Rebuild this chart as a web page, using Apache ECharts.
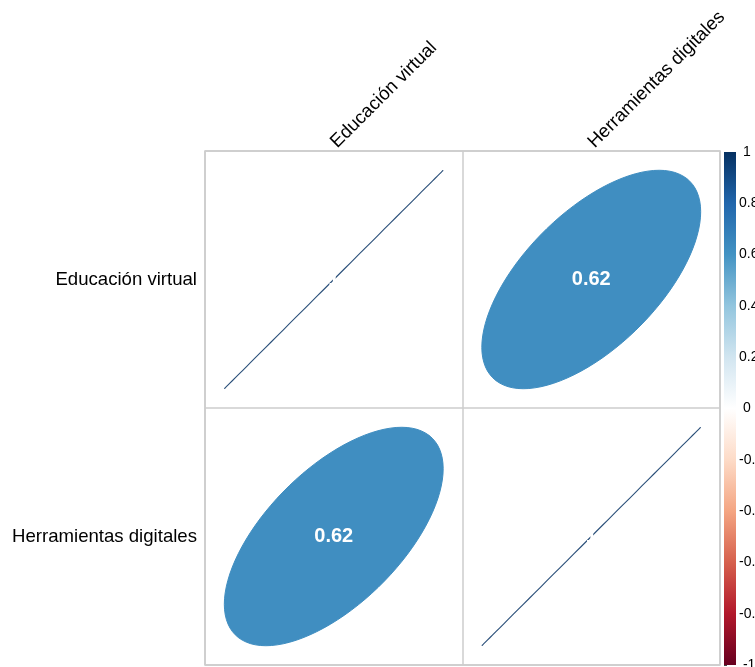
<!DOCTYPE html>
<html>
<head>
<meta charset="utf-8">
<script src="https://cdn.jsdelivr.net/npm/echarts@6/dist/echarts.min.js"></script>
<style>
html,body{margin:0;padding:0;background:#fff;}
#chart{width:755px;height:667px;}
</style>
</head>
<body>
<div id="chart"></div>
<script>
// ---- data ----
const variables = ['Educación virtual', 'Herramientas digitales'];
const correlations = [
  [1, 0.62],
  [0.62, 1]
];
const legendTicks = [-1, -0.8, -0.6, -0.4, -0.2, 0, 0.2, 0.4, 0.6, 0.8, 1];
const legendTickLabels = ['-1', '-0.8', '-0.6', '-0.4', '-0.2', '0', '0.2', '0.4', '0.6', '0.8', '1'];
const colorScale = ['#67001F', '#B2182B', '#D6604D', '#F4A582', '#FDDBC7', '#FFFFFF',
                    '#D1E5F0', '#92C5DE', '#4393C3', '#2166AC', '#053061'];

const cells = [];
for (let i = 0; i < variables.length; i++) {
  for (let j = 0; j < variables.length; j++) {
    cells.push([j, i, correlations[i][j]]);
  }
}

const FONT = 'Liberation Sans, Arial, sans-serif';
const chart = echarts.init(document.getElementById('chart'), null, {renderer: 'canvas'});

function renderEllipse(params, api) {
  const c = api.coord([api.value(0), api.value(1)]);
  const s = api.size([1, 1]);
  const r = api.value(2);
  const d = Math.acos(Math.max(-1, Math.min(1, r)));
  const pts = [];
  const n = 99;
  for (let t = 0; t < n; t++) {
    const k = 2 * Math.PI * t / (n - 1);
    const ex = 0.85 * Math.cos(k + d / 2) / 2;
    const ey = 0.85 * Math.cos(k - d / 2) / 2;
    pts.push([c[0] + ex * s[0], c[1] - ey * s[1]]);
  }
  const col = api.visual('color');
  const isLine = r >= 0.999;
  return {
    type: 'group',
    children: [
      {
        type: 'polygon',
        shape: {points: pts},
        style: {fill: col, stroke: col, lineWidth: isLine ? 1.1 : 1, opacity: isLine ? 0.85 : 1}
      },
      {
        type: 'text',
        x: c[0], y: c[1],
        style: {
          text: String(r),
          fill: '#ffffff',
          font: 'bold 20px ' + FONT,
          align: 'center',
          verticalAlign: 'middle'
        }
      }
    ]
  };
}

function renderColorbar(params, api) {
  const cs = params.coordSys;
  const yTop = api.coord([0, 1])[1];
  const yBot = api.coord([0, -1])[1];
  const stops = [];
  for (let idx = colorScale.length - 1; idx >= 0; idx--) {
    stops.push({offset: 1 - idx / (colorScale.length - 1), color: colorScale[idx]});
  }
  return {
    type: 'rect',
    shape: {x: cs.x, y: yTop, width: cs.width, height: yBot - yTop},
    style: {
      fill: new echarts.graphic.LinearGradient(0, 0, 0, 1, stops)
    }
  };
}

const option = {
  backgroundColor: '#ffffff',
  animation: false,
  grid: [
    {left: 205, top: 151, width: 515, height: 514, show: true, borderColor: '#cccccc', borderWidth: 1.5,
     containLabel: false, outerBoundsMode: 'none'},
    {left: 724, top: 152, width: 12, height: 513, show: false, containLabel: false, outerBoundsMode: 'none'}
  ],
  visualMap: {
    show: false,
    type: 'continuous',
    seriesIndex: 0,
    dimension: 2,
    min: -1,
    max: 1,
    inRange: {color: colorScale}
  },
  xAxis: [
    {
      type: 'category',
      gridIndex: 0,
      data: variables,
      position: 'top',
      axisLine: {show: false},
      axisTick: {show: false},
      splitLine: {show: true, lineStyle: {color: '#cccccc', width: 1.5}},
      axisLabel: {rotate: -45, fontSize: 18.6, color: '#000', fontFamily: FONT, margin: 6, interval: 0}
    },
    {
      type: 'value', gridIndex: 1, min: 0, max: 1, show: false
    }
  ],
  yAxis: [
    {
      type: 'category',
      gridIndex: 0,
      data: variables,
      inverse: true,
      axisLine: {show: false},
      axisTick: {show: false},
      splitLine: {show: true, lineStyle: {color: '#cccccc', width: 1.5}},
      axisLabel: {fontSize: 18.6, color: '#000', fontFamily: FONT, margin: 8, interval: 0}
    },
    {
      type: 'value',
      gridIndex: 1,
      min: -1,
      max: 1,
      interval: 0.2,
      position: 'right',
      axisLine: {show: false},
      splitLine: {show: false},
      axisTick: {show: true, length: 3, lineStyle: {color: '#444'}},
      axisLabel: {
        fontSize: 14, color: '#000', fontFamily: FONT, margin: 3,
        formatter: function (v) {
          let best = 0;
          for (let q = 0; q < legendTicks.length; q++) {
            if (Math.abs(legendTicks[q] - v) < Math.abs(legendTicks[best] - v)) best = q;
          }
          const lab = legendTickLabels[best];
          return (lab.indexOf('.') < 0 ? ' ' : '') + lab;
        }
      }
    }
  ],
  series: [
    {
      type: 'custom',
      xAxisIndex: 0,
      yAxisIndex: 0,
      renderItem: renderEllipse,
      data: cells,
      z: 3
    },
    {
      type: 'custom',
      xAxisIndex: 1,
      yAxisIndex: 1,
      renderItem: renderColorbar,
      data: [[0, 0]],
      silent: true
    }
  ]
};
chart.setOption(option);
</script>
</body>
</html>
